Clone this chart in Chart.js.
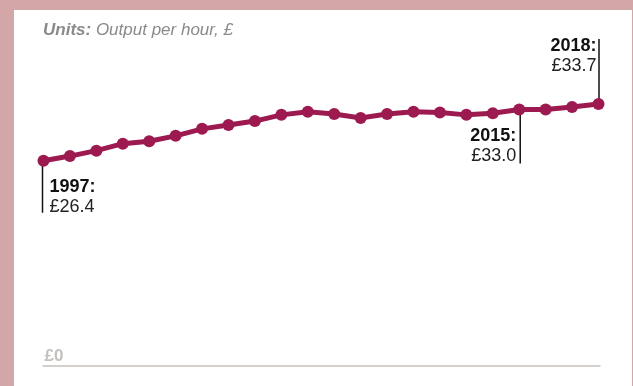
<!DOCTYPE html>
<html>
<head>
<meta charset="utf-8">
<script src="https://cdn.jsdelivr.net/npm/chart.js@4/dist/chart.umd.min.js"></script>
<style>
  html, body { margin: 0; padding: 0; }
  body { width: 633px; height: 386px; background: #d3a6a8; position: relative; overflow: hidden; }
  #panel { position: absolute; left: 14px; top: 10px; width: 618px; height: 376px; background: #ffffff; }
  #wrap { position: absolute; left: 0; top: 0; width: 633px; height: 386px; }
</style>
</head>
<body>
<div id="panel"></div>
<div id="wrap"><canvas id="c" width="633" height="386"></canvas></div>
<script>
const years = ['1997','1998','1999','2000','2001','2002','2003','2004','2005','2006','2007',
               '2008','2009','2010','2011','2012','2013','2014','2015','2016','2017','2018'];
const outputPerHour = [26.4,27.0,27.7,28.6,28.9,29.6,30.5,31.0,31.5,32.3,32.7,
                       32.4,31.9,32.4,32.7,32.6,32.3,32.5,33.0,33.0,33.3,33.7];
const calloutYears = ['1997','2015','2018'];
const unitsLabel = 'Units:';
const unitsText = ' Output per hour, £';
const zeroLabel = '£0';

const FONT = '"Liberation Sans", Arial, Helvetica, sans-serif';

const annotate = {
  id: 'annotate',
  beforeDatasetsDraw(chart) {
    const ctx = chart.ctx, x = chart.scales.x, y = chart.scales.y;
    const y0 = y.getPixelForValue(0);
    ctx.save();
    ctx.strokeStyle = '#d5cfcc';
    ctx.lineWidth = 2;
    ctx.beginPath();
    ctx.moveTo(x.getPixelForValue(0) - 1, y0);
    ctx.lineTo(x.getPixelForValue(years.length - 1) + 2, y0);
    ctx.stroke();
    ctx.fillStyle = '#c4c0be';
    ctx.font = 'bold 17px ' + FONT;
    ctx.textAlign = 'left';
    ctx.textBaseline = 'alphabetic';
    ctx.fillText(zeroLabel, x.getPixelForValue(0) + 1, y0 - 5);
    ctx.fillStyle = '#8a8a8a';
    ctx.font = 'italic bold 17px ' + FONT;
    ctx.fillText(unitsLabel, 43, 35);
    const w = ctx.measureText(unitsLabel).width;
    ctx.font = 'italic 17px ' + FONT;
    ctx.fillText(unitsText, 43 + w, 35);
    ctx.strokeStyle = '#111111';
    ctx.lineWidth = 1.5;
    calloutYears.forEach((yr, k) => {
      const i = years.indexOf(yr);
      const px = x.getPixelForValue(i), py = y.getPixelForValue(outputPerHour[i]);
      ctx.beginPath();
      if (k === 0) { ctx.moveTo(px - 1, py); ctx.lineTo(px - 1, py + 52); }
      else if (k === 1) { ctx.moveTo(px + 1, py); ctx.lineTo(px + 1, py + 54); }
      else { ctx.moveTo(px + 0.5, py); ctx.lineTo(px + 0.5, py - 65); }
      ctx.stroke();
    });
    ctx.restore();
  },
  afterDatasetsDraw(chart) {
    const ctx = chart.ctx, x = chart.scales.x, y = chart.scales.y;
    ctx.save();
    ctx.textBaseline = 'alphabetic';
    calloutYears.forEach((yr, k) => {
      const i = years.indexOf(yr);
      const px = x.getPixelForValue(i), py = y.getPixelForValue(outputPerHour[i]);
      const t1 = yr + ':', t2 = '£' + outputPerHour[i].toFixed(1);
      let tx, b1, b2;
      if (k === 0) { ctx.textAlign = 'left'; tx = px + 6; b1 = py + 31; b2 = py + 51; }
      else if (k === 1) { ctx.textAlign = 'right'; tx = px - 3; b1 = py + 32; b2 = py + 52; }
      else { ctx.textAlign = 'right'; tx = px - 2; b1 = py - 53; b2 = py - 33; }
      ctx.fillStyle = '#111111';
      ctx.font = 'bold 18px ' + FONT;
      ctx.fillText(t1, tx, b1);
      ctx.fillStyle = '#222222';
      ctx.font = '18px ' + FONT;
      ctx.fillText(t2, tx, b2);
    });
    ctx.restore();
  }
};

new Chart(document.getElementById('c'), {
  type: 'line',
  data: {
    labels: years,
    datasets: [{
      data: outputPerHour,
      borderColor: '#9c1a50',
      backgroundColor: '#9c1a50',
      borderWidth: 5,
      pointRadius: 6,
      pointHoverRadius: 6,
      pointBorderWidth: 0,
      tension: 0,
      clip: false
    }]
  },
  options: {
    responsive: false,
    animation: false,
    events: [],
    layout: { padding: { left: 43.5, right: 34.5, top: 55, bottom: 20 } },
    plugins: { legend: { display: false }, tooltip: { enabled: false }, title: { display: false } },
    scales: {
      x: { type: 'category', display: false, offset: false },
      y: { display: false, min: 0, max: 40 }
    }
  },
  plugins: [annotate]
});
</script>
</body>
</html>
